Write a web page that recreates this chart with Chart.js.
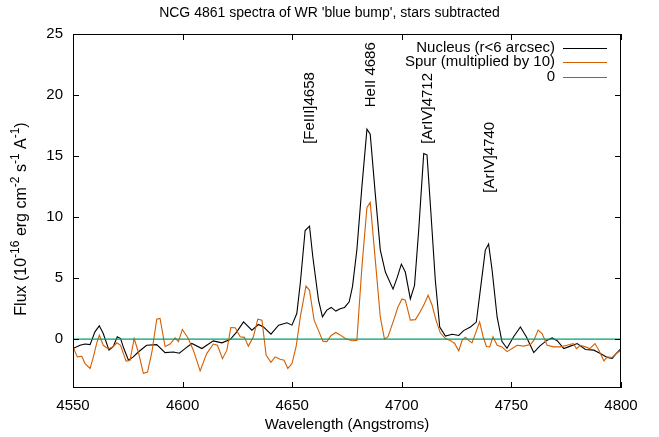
<!DOCTYPE html>
<html><head><meta charset="utf-8">
<script src="https://cdn.jsdelivr.net/npm/chart.js@4/dist/chart.umd.min.js"></script>
<style>html,body{margin:0;padding:0;background:#fff}canvas{display:block}</style>
</head><body>
<canvas id="c" width="659" height="437"></canvas>
<script>
const titleText = "NCG 4861 spectra of WR 'blue bump', stars subtracted";
const xTitle = "Wavelength (Angstroms)";
const xTicks = [4550, 4600, 4650, 4700, 4750, 4800];
const yTicks = [0, 5, 10, 15, 20, 25];

const nucleusWl = [4550,4553.2,4555.5,4557.8,4560,4562,4563.8,4566.4,4568.4,4570.2,4571.7,4573.2,4575.3,4577.5,4579.8,4583.6,4588.2,4592,4595.8,4598.5,4601.1,4604.2,4608.8,4614,4617.9,4621.7,4624.7,4627.8,4631.6,4634.6,4636.9,4640.3,4643.8,4647.6,4649.9,4652.1,4653.7,4655.9,4657.9,4659.4,4662,4663.8,4665.8,4667.8,4669.9,4671.9,4673.9,4676,4677.5,4679.5,4681.8,4684.1,4685.6,4687.9,4690.2,4692.5,4696,4697.8,4699.8,4701.6,4703.9,4705.8,4707.7,4710,4711.5,4713.3,4715.3,4717.3,4719.9,4723,4726,4728.2,4731.3,4734,4735.8,4738.1,4739.6,4741.2,4743.5,4745.7,4748,4751,4754.1,4756.8,4760.2,4762.9,4766.3,4768.6,4770.9,4773.9,4776.9,4780,4783.8,4787.6,4790.6,4793.7,4796,4797.9,4800];
const nucleusFlux = [-0.77,-0.5,-0.4,-0.45,0.6,1.09,0.46,-0.9,-0.6,0.2,0.05,-0.77,-1.72,-1.45,-1.05,-0.5,-0.45,-1.1,-1.05,-1.15,-0.77,-0.35,-0.77,-0.14,-0.3,-0.03,0.6,1.42,0.74,1.2,1.0,0.41,1.15,1.34,1.15,2.1,4.6,8.9,9.26,6.75,3.2,1.83,2.38,2.6,2.3,2.5,2.6,3.06,4.3,7.3,12.5,17.2,16.8,11.9,7.3,5.5,4.1,5.0,6.15,5.5,3.3,4.4,8.9,15.2,15.1,10.3,4.8,1.0,0.25,0.4,0.3,0.7,1.0,1.4,4.0,7.3,7.8,5.65,1.8,-0.2,-0.75,0.2,1.0,0.2,-1.1,-0.57,-0.08,0.1,-0.13,-0.77,-0.57,-0.36,-0.85,-0.9,-1.17,-1.5,-1.58,-1.17,-0.77];

const spurWl = [4550,4552,4554,4555.5,4557.8,4559.3,4560.8,4562,4563.8,4566.1,4568.4,4570,4571.7,4574.2,4576,4577.9,4579.8,4582.1,4584,4586,4588.2,4589.7,4592,4594.3,4596.6,4598.1,4599.9,4602.6,4604.9,4608,4611,4614,4615.9,4618.2,4620.2,4622,4624,4626.3,4628.2,4630,4632.3,4634.3,4636.2,4638.1,4640.3,4642.2,4644.5,4646.3,4648,4649.9,4651.8,4653.7,4656.3,4657.9,4660,4662,4664,4665.8,4667.8,4669.9,4671.9,4674.2,4677.3,4679.5,4681.8,4684.1,4685.6,4687.9,4690.2,4692.1,4693.7,4696.3,4698.3,4700.1,4701.6,4703.9,4706.2,4708.4,4710.3,4712,4713.8,4715.6,4717.6,4719.9,4722.1,4724.1,4726,4727.5,4729,4730.5,4732,4733.6,4735.5,4737.1,4738.6,4740.1,4741.6,4743.5,4745.7,4748,4750.3,4752.6,4755.6,4758.7,4760.2,4762.2,4764,4766.3,4769.3,4772.4,4775.4,4778.2,4779.7,4781.5,4783.8,4785.8,4788.1,4789.9,4792.2,4793.7,4796,4797.9,4800];
const spurFlux = [-0.63,-1.45,-1.4,-2.0,-2.4,-1.45,-0.35,0.33,-0.5,-0.8,-0.6,-0.3,-0.5,-1.8,-1.75,0.05,-1.05,-2.8,-2.7,-1.05,1.64,1.7,-0.6,-0.4,0.1,-0.2,0.8,0.05,-0.9,-2.6,-1.18,-0.4,-0.5,-1.6,-0.9,0.95,0.93,0.2,0.15,-0.57,0.2,1.64,1.56,-1.3,-1.9,-1.45,-1.65,-1.72,-2.4,-2.0,-0.6,1.83,4.35,4.0,1.56,0.7,-0.16,-0.2,0.3,0.55,0.35,0.05,-0.13,-0.1,5.9,10.8,11.2,6.5,1.8,0.0,0.2,1.56,2.65,3.3,3.2,1.56,1.6,2.24,2.9,3.6,2.8,1.56,0.5,0.05,-0.1,-0.35,-0.95,-0.1,0.15,-0.1,-0.3,0.45,1.42,0.2,-0.6,-0.63,0.2,-0.5,-0.63,-1.02,-0.77,-0.5,-0.57,-0.44,-0.1,0.74,0.46,-0.5,-0.63,-0.63,-0.5,-0.36,-0.77,-0.5,-0.63,-0.77,-0.36,-0.9,-1.78,-1.45,-1.5,-1.17,-0.9];

const zeroWl = [4550, 4800];
const zeroFlux = [0, 0];

const seriesNames = ["Nucleus (r<6 arcsec)", "Spur (multiplied by 10)", "0"];
const seriesColors = ["#000000", "#d55e00", "#009e73"];

const lineLabels = ["[FeIII]4658", "HeII 4686", "[ArIV]4712", "[ArIV]4740"];
const lineLabelWl = [4658, 4686, 4712, 4740];
const lineLabelFlux = [16, 19, 16, 12];

const FONT = "'Liberation Sans', Arial, Helvetica, sans-serif";
const pts = (xs, ys) => xs.map((x, i) => ({x: x, y: ys[i]}));

const decor = {
  id: 'decor',
  afterDatasetsDraw(chart) {
    const ctx = chart.ctx, a = chart.chartArea;
    const xs = chart.scales.x, ys = chart.scales.y;
    ctx.save();
    ctx.strokeStyle = '#000'; ctx.lineWidth = 1;
    ctx.strokeRect(Math.round(a.left) + 0.5, Math.round(a.top) + 0.5, Math.round(a.right - a.left) - 1, Math.round(a.bottom - a.top) - 1);
    const TL = 6;
    ctx.beginPath();
    xTicks.forEach(v => {
      const px = Math.round(xs.getPixelForValue(v)) + 0.5;
      ctx.moveTo(px, a.bottom); ctx.lineTo(px, a.bottom - TL);
      ctx.moveTo(px, a.top); ctx.lineTo(px, a.top + TL);
    });
    yTicks.forEach(v => {
      const py = Math.round(ys.getPixelForValue(v)) + 0.5;
      ctx.moveTo(a.left, py); ctx.lineTo(a.left + TL, py);
      ctx.moveTo(a.right, py); ctx.lineTo(a.right - TL, py);
    });
    ctx.stroke();
    ctx.fillStyle = '#000';
    ctx.font = '15px ' + FONT;
    lineLabels.forEach((t, i) => {
      const px = xs.getPixelForValue(lineLabelWl[i]);
      const py = ys.getPixelForValue(lineLabelFlux[i]);
      ctx.save();
      ctx.translate(px, py);
      ctx.rotate(-Math.PI / 2);
      ctx.textAlign = 'left'; ctx.textBaseline = 'middle';
      ctx.fillText(t, 0, 0);
      ctx.restore();
    });
    ctx.font = '15px ' + FONT;
    ctx.textAlign = 'right'; ctx.textBaseline = 'middle';
    const lx = a.right - 66, rowY0 = a.top + 13.5, rowH = 14.5;
    seriesNames.forEach((n, i) => {
      const y = rowY0 + i * rowH;
      ctx.fillStyle = '#000';
      ctx.fillText(n, lx, y);
      ctx.strokeStyle = seriesColors[i]; ctx.lineWidth = 1.2;
      ctx.beginPath();
      ctx.moveTo(lx + 8, Math.round(y) + 0.5); ctx.lineTo(lx + 52, Math.round(y) + 0.5);
      ctx.stroke();
    });
    ctx.fillStyle = '#000';
    ctx.font = '14px ' + FONT;
    ctx.textAlign = 'center'; ctx.textBaseline = 'middle';
    ctx.fillText(titleText, chart.width / 2, 13);
    ctx.font = '15px ' + FONT;
    ctx.fillText(xTitle, (a.left + a.right) / 2, 425);
    const segs = [["Flux (10", 0], ["-16", 1], [" erg cm", 0], ["-2", 1], [" s", 0], ["-1", 1], [" A", 0], ["-1", 1], [")", 0]];
    const nf = '16px ' + FONT, sf = '12px ' + FONT;
    let total = 0;
    segs.forEach(s => { ctx.font = s[1] ? sf : nf; total += ctx.measureText(s[0]).width; });
    ctx.save();
    ctx.translate(22, 219);
    ctx.rotate(-Math.PI / 2);
    ctx.textAlign = 'left'; ctx.textBaseline = 'middle';
    let cx = -total / 2;
    segs.forEach(s => {
      ctx.font = s[1] ? sf : nf;
      ctx.fillText(s[0], cx, s[1] ? -6 : 0);
      cx += ctx.measureText(s[0]).width;
    });
    ctx.restore();
    ctx.restore();
  }
};

new Chart(document.getElementById('c'), {
  type: 'line',
  data: {
    datasets: [
      {label: seriesNames[0], data: pts(nucleusWl, nucleusFlux), borderColor: seriesColors[0], borderWidth: 1.1, pointRadius: 0, tension: 0, order: 3},
      {label: seriesNames[1], data: pts(spurWl, spurFlux), borderColor: seriesColors[1], borderWidth: 1.1, pointRadius: 0, tension: 0, order: 2},
      {label: seriesNames[2], data: pts(zeroWl, zeroFlux), borderColor: seriesColors[2], borderWidth: 1.1, pointRadius: 0, tension: 0, order: 1}
    ]
  },
  options: {
    responsive: false, animation: false, devicePixelRatio: 1,
    layout: {padding: {left: 0, right: 38, top: 34, bottom: 0}},
    plugins: {legend: {display: false}, tooltip: {enabled: false}, title: {display: false}},
    scales: {
      x: {
        type: 'linear', min: 4550, max: 4800,
        afterBuildTicks: s => { s.ticks = xTicks.map(v => ({value: v})); },
        afterFit: s => { s.height = 49; },
        grid: {display: false, drawTicks: false}, border: {display: false},
        ticks: {color: '#000', font: {family: FONT, size: 15}, padding: 9, maxRotation: 0, callback: v => String(v)}
      },
      y: {
        type: 'linear', min: -4, max: 25,
        afterBuildTicks: s => { s.ticks = yTicks.map(v => ({value: v})); },
        afterFit: s => { s.width = 73; },
        grid: {display: false, drawTicks: false}, border: {display: false},
        ticks: {color: '#000', font: {family: FONT, size: 15}, padding: 10, callback: v => String(v)}
      }
    }
  },
  plugins: [decor]
});
</script>
</body></html>
